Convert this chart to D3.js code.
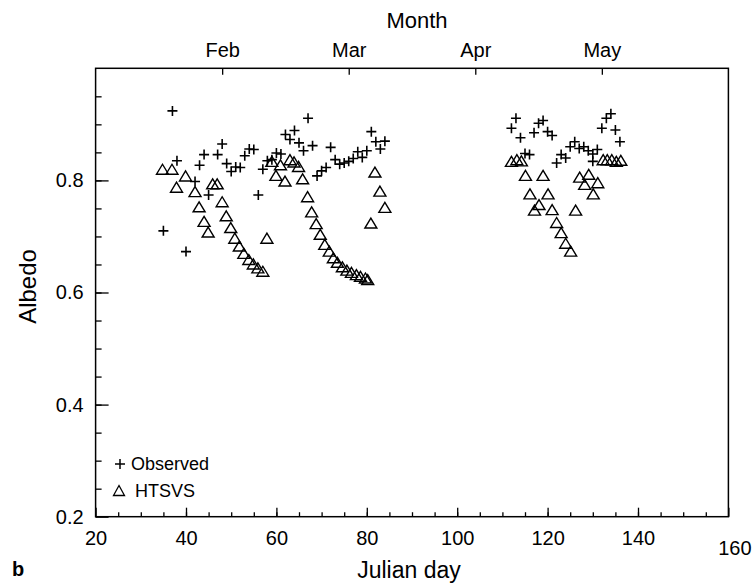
<!DOCTYPE html>
<html>
<head>
<meta charset="utf-8">
<script src="https://cdn.jsdelivr.net/npm/d3@7"></script>
<style>
  body { margin: 0; background: #fff; }
  text { font-family: "Liberation Sans", Arial, Helvetica, sans-serif; fill: #000; }
</style>
</head>
<body>
<div id="chart"></div>
<script>
// observed albedo (+)
const observedDays = [35, 37, 38, 40, 42, 43, 44, 45, 47, 48, 49, 50, 51, 52, 53, 54, 55, 56, 57, 58,
  59, 60, 61, 62, 63, 64, 65, 66, 67, 68, 69, 70, 71, 72, 73, 74, 75, 76, 77, 78, 79, 80, 81, 82, 83, 84,
  112, 113, 114, 115, 116, 117, 118, 119, 120, 121, 122, 123, 124, 125, 126, 127, 128, 129, 130, 130,
  131, 132, 133, 134, 135, 136];
const observedAlbedo = [0.710, 0.924, 0.835, 0.673, 0.798, 0.827, 0.846, 0.774, 0.846, 0.865, 0.830, 0.816,
  0.824, 0.823, 0.844, 0.856, 0.855, 0.774, 0.820, 0.835,
  0.837, 0.849, 0.847, 0.882, 0.873, 0.889, 0.867, 0.853, 0.911, 0.862, 0.808, 0.817, 0.823, 0.859, 0.837,
  0.829, 0.831, 0.834, 0.839, 0.851, 0.841, 0.853, 0.887, 0.869, 0.856, 0.870,
  0.893, 0.911, 0.876, 0.848, 0.846, 0.885, 0.902, 0.907, 0.887, 0.880, 0.831, 0.846, 0.840, 0.860, 0.869,
  0.857, 0.860, 0.853, 0.847, 0.834,
  0.855, 0.893, 0.911, 0.919, 0.890, 0.869];

// HTSVS model albedo (triangles)
const htsvsDays = [34.8, 36.9, 37.9, 39.9, 42.0, 42.9, 44.0, 44.9, 45.9, 46.9, 48.0, 48.9, 49.9, 50.8,
  51.8, 52.8, 53.9, 54.9, 55.9, 57.0, 57.9, 59.0, 59.9, 60.9, 61.9, 63.0, 63.9, 64.9, 65.8, 66.9, 67.8,
  68.8, 69.7, 70.7, 71.7, 72.6, 73.5, 74.6, 75.6, 76.6, 77.7, 78.6, 79.7, 80.2, 80.9, 81.8, 82.9, 84.0,
  112.0, 113.2, 114.2, 115.1, 116.1, 117.1, 118.1, 119.0, 120.1, 121.0, 122.0, 123.0, 124.0, 125.1,
  126.2, 127.1, 128.2, 129.1, 130.1, 131.1, 132.3, 133.2, 134.2, 135.2, 136.2];
const htsvsAlbedo = [0.819, 0.819, 0.787, 0.807, 0.779, 0.752, 0.726, 0.707, 0.793, 0.793, 0.761, 0.736,
  0.715, 0.696, 0.682, 0.669, 0.658, 0.650, 0.643, 0.637, 0.696, 0.833, 0.808, 0.827, 0.798, 0.836, 0.832,
  0.824, 0.802, 0.770, 0.743, 0.722, 0.703, 0.685, 0.673, 0.661, 0.653, 0.645, 0.639, 0.635, 0.631, 0.628,
  0.625, 0.622, 0.723, 0.814, 0.780, 0.751,
  0.833, 0.836, 0.834, 0.808, 0.775, 0.746, 0.756, 0.808, 0.775, 0.747, 0.724, 0.706, 0.687, 0.673,
  0.746, 0.805, 0.792, 0.810, 0.775, 0.795, 0.836, 0.836, 0.836, 0.833, 0.835];

const monthNames = ["Feb", "Mar", "Apr", "May"];
const monthDays = [48, 76, 104, 132];
const xMajorTicks = [20, 40, 60, 80, 100, 120, 140, 160];
const yMajorTicks = [0.2, 0.4, 0.6, 0.8];

const width = 752;
const height = 588;
const margin = { top: 68.3, right: 23.6, bottom: 71.3, left: 95.6 };
const iw = width - margin.left - margin.right;
const ih = height - margin.top - margin.bottom;

const svg = d3.select("#chart")
  .append("svg")
  .attr("width", width)
  .attr("height", height);

const g = svg.append("g")
  .attr("transform", `translate(${margin.left},${margin.top})`);

const x = d3.scaleLinear().domain([20, 160]).range([0, iw]);
const y = d3.scaleLinear().domain([0.2, 1.0]).range([ih, 0]);

// minor ticks (inward), no labels
g.append("g")
  .attr("class", "axis")
  .attr("transform", `translate(0,${ih})`)
  .call(d3.axisBottom(x).tickValues(d3.range(25, 160, 5)).tickSize(-4.5).tickFormat(""));
g.append("g")
  .attr("class", "axis")
  .call(d3.axisLeft(y).tickValues(d3.range(0.25, 1.0, 0.05)).tickSize(-6).tickFormat(""));

// major ticks with labels
const xAxis = g.append("g")
  .attr("class", "axis")
  .attr("transform", `translate(0,${ih})`)
  .call(d3.axisBottom(x).tickValues(xMajorTicks).tickSize(-9).tickPadding(14).tickFormat(d3.format("d")));
xAxis.selectAll(".tick text").attr("dy", "0.71em");
xAxis.selectAll(".tick").filter((d) => d === 160).select("text")
  .attr("dx", 6).attr("dy", "1.2em");

g.append("g")
  .attr("class", "axis")
  .call(d3.axisLeft(y).tickValues(yMajorTicks).tickSize(-13).tickPadding(12).tickFormat(d3.format(".1f")));

// month axis along the top
g.append("g")
  .attr("class", "axis")
  .call(d3.axisTop(x).tickValues(monthDays).tickSize(-6.5).tickPadding(11)
    .tickFormat((d, i) => monthNames[i]));

svg.selectAll(".axis .domain").remove();
svg.selectAll(".axis line").attr("stroke", "#000").attr("stroke-width", 1.3);
svg.selectAll(".axis text")
  .style("font-size", "20px")
  .style("font-family", '"Liberation Sans", Arial, sans-serif');

// frame
g.append("rect")
  .attr("width", iw)
  .attr("height", ih)
  .attr("fill", "none")
  .attr("stroke", "#000")
  .attr("stroke-width", 1.5);

const crossPath = "M-5,0H5M0,-5V5";
const triPath = "M0,-5.5L6,4.5H-6Z";

// observed
g.append("g")
  .selectAll("path")
  .data(observedDays)
  .join("path")
  .attr("d", crossPath)
  .attr("transform", (d, i) => `translate(${x(d)},${y(observedAlbedo[i])})`)
  .attr("stroke", "#000")
  .attr("stroke-width", 1.6)
  .attr("fill", "none");

// HTSVS
g.append("g")
  .selectAll("path")
  .data(htsvsDays)
  .join("path")
  .attr("d", triPath)
  .attr("transform", (d, i) => `translate(${x(d)},${y(htsvsAlbedo[i])})`)
  .attr("stroke", "#000")
  .attr("stroke-width", 1.4)
  .attr("fill", "none");

// legend
const legend = svg.append("g");
legend.append("path")
  .attr("d", "M-5,0H5M0,-5V5")
  .attr("transform", "translate(120,464)")
  .attr("stroke", "#000").attr("stroke-width", 1.5);
legend.append("text")
  .attr("x", 131).attr("y", 464).attr("dy", "0.35em")
  .style("font-size", "18px")
  .text("Observed");
legend.append("path")
  .attr("d", "M0,-5.5L5.5,4.5H-5.5Z")
  .attr("transform", "translate(119,491)")
  .attr("stroke", "#000").attr("stroke-width", 1.3).attr("fill", "none");
legend.append("text")
  .attr("x", 135).attr("y", 491).attr("dy", "0.35em")
  .style("font-size", "18px")
  .text("HTSVS");

// axis titles
svg.append("text")
  .attr("x", margin.left + iw / 2 - 3)
  .attr("y", 578)
  .attr("text-anchor", "middle")
  .style("font-size", "23px")
  .text("Julian day");

svg.append("text")
  .attr("transform", `translate(36,${margin.top + ih / 2 - 6}) rotate(-90)`)
  .attr("text-anchor", "middle")
  .style("font-size", "24px")
  .text("Albedo");

svg.append("text")
  .attr("x", margin.left + iw / 2 + 5)
  .attr("y", 28)
  .attr("text-anchor", "middle")
  .style("font-size", "22px")
  .text("Month");

svg.append("text")
  .attr("x", 12)
  .attr("y", 576)
  .style("font-size", "20px")
  .style("font-weight", "bold")
  .text("b");
</script>
</body>
</html>
